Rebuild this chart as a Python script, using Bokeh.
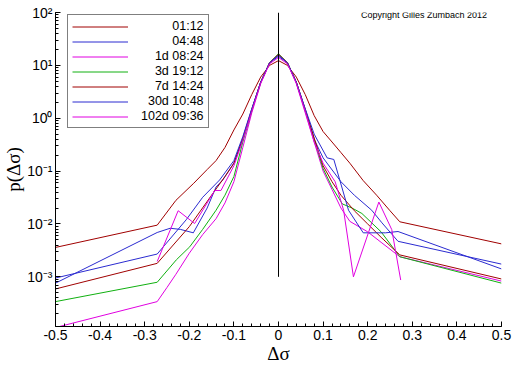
import numpy as np
from bokeh.plotting import figure
from bokeh.models import (FixedTicker, LogTicker, CustomJSTickFormatter, Range1d, Label)
from bokeh.embed import file_html
from bokeh.resources import INLINE

# ---------------- data ----------------
labels = ["01:12", "04:48", "1d 08:24", "3d 19:12", "7d 14:24", "30d 10:48", "102d 09:36"]

x_0112 = [-0.5, -0.272, -0.23, -0.19, -0.16, -0.14, -0.12, -0.1, -0.08, -0.06, -0.04, -0.02, 0,
          0.02, 0.04, 0.06, 0.08, 0.1, 0.12, 0.14, 0.16, 0.19, 0.22, 0.25, 0.272, 0.5]
p_0112 = [3.6e-3, 9.5e-3, 2.8e-2, 5.9e-2, 0.107, 0.158, 0.28, 0.6, 1.2, 2.8, 6.0, 10.0, 12.3,
          10.0, 6.0, 2.8, 1.12, 0.56, 0.355, 0.224, 0.141, 0.066, 0.035, 0.0178, 0.011, 4.2e-3]

x_0448 = [-0.5, -0.272, -0.243, -0.22, -0.191, -0.16, -0.14, -0.125, -0.1, -0.08, -0.06, -0.04, -0.02, 0,
          0.02, 0.04, 0.06, 0.08, 0.1, 0.14, 0.17, 0.209, 0.232, 0.268, 0.5]
p_0448 = [7.6e-4, 6.9e-3, 8.3e-3, 7.9e-3, 6.8e-3, 2.0e-2, 5.0e-2, 6.8e-2, 0.141, 0.4, 1.41, 4.8, 11.2, 14.8,
          11.2, 4.8, 1.41, 0.4, 0.178, 6.3e-2, 3.5e-2, 1.82e-2, 1.05e-2, 4.7e-3, 1.74e-3]

x_1d = [-0.5, -0.272, -0.25, -0.23, -0.2, -0.17, -0.14, -0.12, -0.1, -0.08, -0.06, -0.04, -0.02, 0,
        0.02, 0.04, 0.06, 0.08, 0.1, 0.12, 0.14, 0.16, 0.2, 0.23, 0.272, 0.5]
p_1d = [1.1e-4, 3.4e-4, 6.3e-4, 1.12e-3, 2.8e-3, 6.3e-3, 1.26e-2, 2.5e-2, 6.3e-2, 0.28, 1.26, 4.5, 11.2, 15.8,
        11.2, 4.5, 1.26, 0.355, 0.1, 4.5e-2, 2.0e-2, 1.12e-2, 7.1e-3, 4.5e-3, 2.4e-3, 8.3e-4]

x_3d = [-0.5, -0.272, -0.229, -0.199, -0.17, -0.14, -0.12, -0.1, -0.08, -0.06, -0.04, -0.02, 0,
        0.02, 0.04, 0.06, 0.08, 0.1, 0.12, 0.143, 0.165, 0.187, 0.23, 0.272, 0.5]
p_3d = [3.4e-4, 7.9e-4, 2.1e-3, 3.7e-3, 7.9e-3, 1.82e-2, 3.5e-2, 7.9e-2, 0.355, 1.41, 4.8, 11.2, 16.6,
        11.2, 4.8, 1.41, 0.4, 0.112, 5.0e-2, 2.4e-2, 2.0e-2, 1.58e-2, 7.1e-3, 2.4e-3, 7.6e-4]

x_7d = [-0.5, -0.272, -0.2, -0.147, -0.12, -0.1, -0.08, -0.06, -0.04, -0.02, 0,
        0.02, 0.04, 0.06, 0.08, 0.1, 0.12, 0.14, 0.17, 0.2, 0.23, 0.272, 0.5]
p_7d = [5.9e-4, 1.8e-3, 8.9e-3, 3.8e-2, 7.9e-2, 0.141, 0.42, 1.48, 4.8, 11.2, 16.2,
        11.2, 4.8, 1.48, 0.42, 0.126, 6.3e-2, 3.5e-2, 1.78e-2, 1.0e-2, 5.6e-3, 2.6e-3, 9.1e-4]

x_30d = [-0.5, -0.272, -0.207, -0.17, -0.132, -0.1, -0.08, -0.06, -0.04, -0.02, 0,
         0.02, 0.04, 0.06, 0.08, 0.109, 0.124, 0.157, 0.19, 0.24, 0.268, 0.5]
p_30d = [9.5e-4, 2.7e-3, 1.2e-2, 3.2e-2, 6.8e-2, 0.158, 0.45, 1.51, 4.8, 11.2, 15.5,
         11.2, 4.8, 1.51, 0.5, 0.178, 0.166, 1.82e-2, 6.8e-3, 6.8e-3, 7.2e-3, 1.41e-3]

x_102d = [-0.272, -0.225, -0.188, -0.143, -0.129, -0.1, -0.08, -0.06, -0.04, -0.02, 0,
          0.02, 0.04, 0.06, 0.08, 0.1, 0.127, 0.146, 0.168, 0.225, 0.254, 0.274]
p_102d = [1.95e-3, 1.78e-2, 1.02e-2, 4.3e-2, 4.3e-2, 0.126, 0.38, 1.35, 4.6, 10.7, 14.1,
          10.7, 4.6, 1.35, 0.355, 0.141, 6.3e-2, 1.82e-2, 1.0e-3, 2.6e-2, 7.8e-3, 8.7e-4]

zero_line_x = [0, 0]
zero_line_y = [1e-3, 1e2]

x_ticks = [-0.5, -0.4, -0.3, -0.2, -0.1, 0, 0.1, 0.2, 0.3, 0.4, 0.5]
x_range = (-0.5, 0.5)
y_range = (1.15e-4, 100)

x_title = "\u0394\u03c3"
y_title = "p(\u0394\u03c3)"
copyright_text = "Copyright Gilles Zumbach 2012"

# ---------------- styling ----------------
RED = "#a00000"
BLUE = "#2b2bd0"
MAG = "#e000e0"
GREEN = "#10b010"
colors = [RED, BLUE, MAG, GREEN, RED, BLUE, MAG]
series = [(x_0112, p_0112), (x_0448, p_0448), (x_1d, p_1d), (x_3d, p_3d),
          (x_7d, p_7d), (x_30d, p_30d), (x_102d, p_102d)]

# pad labels with figure/nb spaces so they appear right-aligned in the legend
FS, NB = "\u2007", "\u00a0"
pads = [FS * 4 + NB, FS * 4 + NB, FS * 2, FS * 2, FS * 2, FS, ""]

W, H = 512, 366
p = figure(width=W, height=H, output_backend="svg", toolbar_location=None,
           y_axis_type="log",
           x_range=Range1d(*x_range), y_range=Range1d(*y_range),
           min_border_left=52, min_border_right=11, min_border_top=12, min_border_bottom=39)
p.outline_line_color = None
p.xgrid.visible = False
p.ygrid.visible = False
p.background_fill_color = "white"
p.border_fill_color = "white"

for (xs, ps), c, lab, pad in zip(series, colors, labels, pads):
    p.line(xs, ps, line_color=c, line_width=1, legend_label=pad + lab)

p.line(zero_line_x, zero_line_y, line_color="black", line_width=1)

# axes
minor = list(np.round(np.arange(-0.5, 0.5001, 0.02), 3))
p.xaxis.ticker = FixedTicker(ticks=x_ticks, minor_ticks=minor)
p.xaxis.formatter = CustomJSTickFormatter(code="""
    if (Math.abs(tick) < 1e-9) return "0";
    return tick.toFixed(1);
""")
p.yaxis.ticker = LogTicker(num_minor_ticks=10)
p.yaxis.formatter = CustomJSTickFormatter(code="""
    const sup = {'-':'\u207b','0':'\u2070','1':'\u00b9','2':'\u00b2','3':'\u00b3','4':'\u2074','5':'\u2075'};
    const e = Math.round(Math.log10(tick));
    return '10' + String(e).split('').map(c => sup[c]).join('');
""")
for ax in (p.xaxis[0], p.yaxis[0]):
    ax.major_tick_in = 5
    ax.major_tick_out = 0
    ax.minor_tick_in = 3
    ax.minor_tick_out = 0
    ax.axis_line_color = "black"
    ax.major_tick_line_color = "black"
    ax.minor_tick_line_color = "black"
    ax.major_label_text_font = "Liberation Sans"
    ax.major_label_text_font_size = "14px"
    ax.major_label_text_color = "black"
    ax.major_label_standoff = 3
    ax.axis_label_standoff = 0
    ax.axis_label_text_font = "Liberation Serif"
    ax.axis_label_text_font_size = "19px"
    ax.axis_label_text_font_style = "normal"
    ax.axis_label_text_color = "black"

p.xaxis.axis_label = x_title
p.yaxis.axis_label = y_title

p.add_layout(Label(x=0.185, y=312, x_units="data", y_units="screen", text=copyright_text,
                   text_font="Liberation Sans", text_font_size="9px",
                   text_align="left", text_baseline="middle", text_color="black"))

leg = p.legend[0]
leg.location = (12, 198)
leg.margin = 0
leg.padding = 4
leg.spacing = 1
leg.glyph_width = 56
leg.glyph_height = 13
leg.label_height = 13
leg.label_standoff = 13
leg.label_text_font = "Liberation Sans"
leg.label_text_font_size = "12.5px"
leg.label_text_color = "black"
leg.border_line_color = "black"
leg.border_line_width = 1
leg.background_fill_color = "white"
leg.background_fill_alpha = 1.0

open("out.html", "w").write(file_html(p, INLINE))
